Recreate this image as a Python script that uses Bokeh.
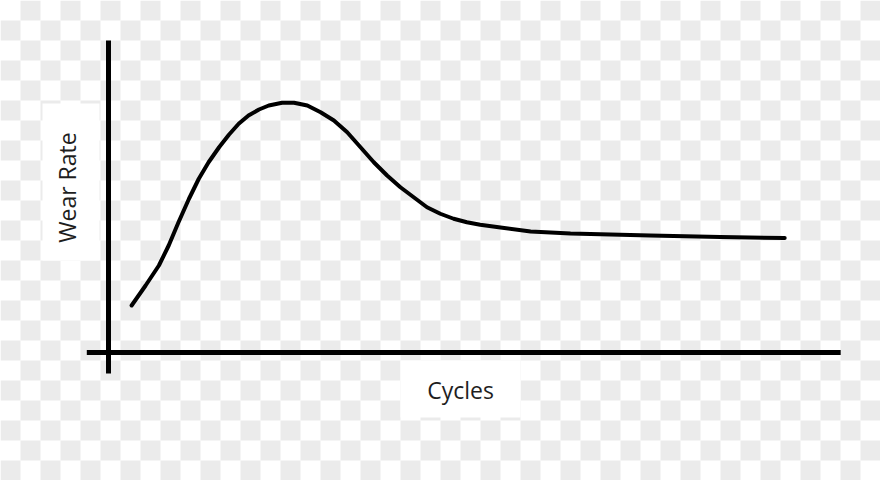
from bokeh.plotting import figure
from bokeh.models import Range1d, Label
from bokeh.embed import file_html
from bokeh.resources import INLINE
import numpy as np

# curve (arbitrary units: cycles vs wear rate)
cycles = [3.3, 5.3, 7.2, 8.6, 10.0, 11.5, 12.9, 14.3, 15.8, 17.2, 18.6, 20.0, 21.5,
          22.9, 24.8, 26.5, 28.4, 30.3, 32.2, 34.1, 36.0, 37.9, 39.8, 41.7, 43.6,
          45.5, 47.4, 49.3, 51.2, 53.1, 56.0, 60.3, 66.0, 77.4, 87.4, 96.6]
wear_rate = [18.8, 26.8, 34.8, 42.8, 52.1, 61.5, 69.5, 76.1, 82.1, 87.1, 91.5, 94.8, 97.2,
             98.8, 99.9, 99.9, 98.8, 96.1, 92.8, 88.1, 82.1, 76.1, 70.8, 66.1, 62.1,
             58.1, 55.5, 53.5, 52.1, 51.1, 50.0, 48.4, 47.6, 46.8, 46.2, 45.8]

x_label = "Cycles"
y_label = "Wear Rate"

# axis extents in data units
x_axis_extent = (-3.1, 104.6)
y_axis_extent = (-8.4, 124.8)

W, H = 880, 480
# pixel -> data mapping of the page (axes cross at pixel 108, 352)
X0, Y0, SX, SY = 108, 352, 7.0, 2.5


def dx(px):
    return (px - X0) / SX


def dy(py):
    return (Y0 - py) / SY


p = figure(width=W, height=H, x_range=Range1d(dx(0), dx(W)), y_range=Range1d(dy(H), dy(0)),
           x_axis_location=None, y_axis_location=None, toolbar_location=None, tools="",
           output_backend="svg", min_border=0)
p.outline_line_color = None
p.grid.visible = False
p.background_fill_color = "white"
p.border_fill_color = "white"

# checkerboard backdrop (transparent-image look)
left, right, top, bottom = [], [], [], []
for i in range(0, 44):
    for j in range(0, 24):
        if (i + j) % 2 == 1:
            left.append(dx(i * 20))
            right.append(dx(i * 20 + 20))
            top.append(dy(j * 20))
            bottom.append(dy(j * 20 + 20))
p.quad(left=left, right=right, top=top, bottom=bottom, fill_color="#ebebeb", line_color=None)

# white boxes behind the labels
p.quad(left=[dx(42), dx(400)], right=[dx(99), dx(520)], top=[dy(103), dy(360)],
       bottom=[dy(260), dy(417)], fill_color="white", line_color=None)

# axes
p.segment(x0=[x_axis_extent[0], 0], y0=[0, y_axis_extent[0]],
          x1=[x_axis_extent[1], 0], y1=[0, y_axis_extent[1]],
          line_color="black", line_width=5)

p.line(cycles, wear_rate, line_color="black", line_width=4, line_cap="round", line_join="round")

p.add_layout(Label(x=dx(460), y=dy(389), text=x_label, text_font="Open Sans", text_font_size="23px",
                   text_color="#1e1e1e", text_align="center", text_baseline="middle"))
p.add_layout(Label(x=dx(66), y=dy(187), text=y_label, text_font="Open Sans", text_font_size="23px",
                   text_color="#1e1e1e", text_align="center", text_baseline="middle", angle=np.pi / 2))

open("out.html", "w").write(file_html(p, INLINE))
